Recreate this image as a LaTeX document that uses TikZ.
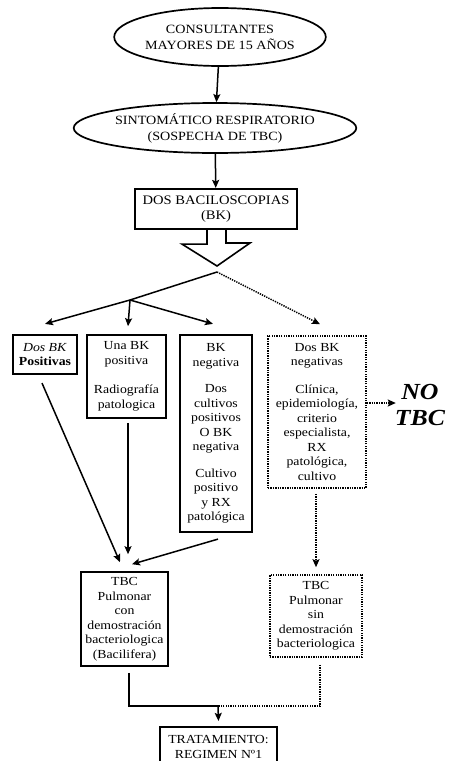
\documentclass[tikz,border=0pt]{standalone}
\usepackage{fontspec}
\setmainfont{Liberation Serif}[FakeStretch=1.12]
\usetikzlibrary{arrows.meta,shapes.geometric}

\begin{document}
\begin{tikzpicture}[x=1pt, y=-1pt,
  every node/.style={font=\fontsize{12.3}{14.5}\selectfont, align=center, inner sep=0pt},
  oval/.style={ellipse, draw, line width=1.7pt, font=\fontsize{12.6}{16}\selectfont},
  box/.style={draw, line width=1.6pt},
  thickbox/.style={draw, line width=2.2pt},
  dotbox/.style={draw, line width=1.6pt, dash pattern=on 1.3pt off 1.1pt},
  arr/.style={line width=1.5pt, -{Stealth[length=8pt,width=7pt,inset=1.5pt]}},
  dotarr/.style={arr, dash pattern=on 1.3pt off 1.1pt}]
  \useasboundingbox (0,0) rectangle (449,761);

  % Nodes
  \node[oval, minimum width=190, minimum height=58] (cons) at (220,37)
    {CONSULTANTES\\MAYORES DE 15 AÑOS};
  \node[oval, minimum width=255, minimum height=50] (sr) at (215,128)
    {SINTOMÁTICO RESPIRATORIO\\(SOSPECHA DE TBC)};
  \node[thickbox, minimum width=162, minimum height=40, font=\fontsize{13}{15}\selectfont] (bk) at (216,209)
    {DOS BACILOSCOPIAS\\(BK)};

  \node[thickbox, minimum width=64, minimum height=39] (pos) at (45,354.5)
    {\textit{Dos BK}\\\textbf{Positivas}};
  \node[box, minimum width=79, minimum height=83] (una) at (126.5,376.5)
    {Una BK\\positiva\\[15pt]Radiografía\\patologica};
  \node[thickbox, minimum width=72, minimum height=197] (neg) at (216,433.5)
    {BK\\negativa\\[12pt]Dos\\cultivos\\positivos\\O BK\\negativa\\[12pt]Cultivo\\positivo\\y RX\\patológica};
  \node[dotbox, minimum width=98, minimum height=152] (dosneg) at (317,412)
    {Dos BK\\negativas\\[13pt]Clínica,\\epidemiología,\\criterio\\especialista,\\RX\\patológica,\\cultivo};
  \node[font=\fontsize{23}{26}\selectfont\bfseries\itshape] (notbc) at (420,405) {NO\\TBC};

  \node[box, minimum width=87, minimum height=94] (con) at (124.5,619)
    {TBC\\Pulmonar\\con\\demostración\\bacteriologica\\(Bacilifera)};
  \node[dotbox, minimum width=92, minimum height=82] (sin) at (316,616)
    {TBC\\Pulmonar\\sin\\demostración\\bacteriologica};
  \node[thickbox, minimum width=117, minimum height=40] (trat) at (218.5,747)
    {TRATAMIENTO:\\REGIMEN Nº1};

  % Hollow arrow under the BK box
  \draw[line width=1.6pt] ([xshift=-9]bk.south) -- ++(0,14) -- ++(-25,0)
    -- (217,266) -- (250,243) -- (226,243) -- ([xshift=10]bk.south);

  \coordinate (split) at (217,272);
  \coordinate (fork)  at (130,300);
  \coordinate (join)  at (218,706);

  % Edges
  \draw[arr] (cons) -- (sr);
  \draw[arr] (sr) -- (bk);
  \draw[arr] (split) -- (fork) -- ([yshift=10]pos.north);
  \draw[arr] (fork) -- ([xshift=1.5,yshift=8]una.north);
  \draw[arr] (fork) -- ([xshift=-3,yshift=10]neg.north);
  \draw[dotarr] (split) -- ([xshift=3,yshift=11]dosneg.north);
  \draw[dotarr] ([yshift=9]dosneg.east) -- ++(29,0);

  \draw[arr] ([xshift=-3,yshift=-8]pos.south) -- ([xshift=-4.5,yshift=9]con.north);
  \draw[arr] ([xshift=1.5,yshift=-4]una.south) -- ([xshift=3.5,yshift=17]con.north);
  \draw[arr] ([xshift=2,yshift=-6]neg.south) -- ([xshift=7.5,yshift=7]con.north);
  \draw[dotarr] ([xshift=-1,yshift=-5]dosneg.south) -- ([yshift=7]sin.north);

  \draw[line width=1.5pt] ([xshift=4.5,yshift=-6]con.south) |- (join);
  \draw[line width=1.5pt, dash pattern=on 1.3pt off 1.1pt] ([xshift=4,yshift=-7]sin.south) |- (join);
  \draw[arr] (join) -- ([yshift=5]trat.north);
\end{tikzpicture}
\end{document}
